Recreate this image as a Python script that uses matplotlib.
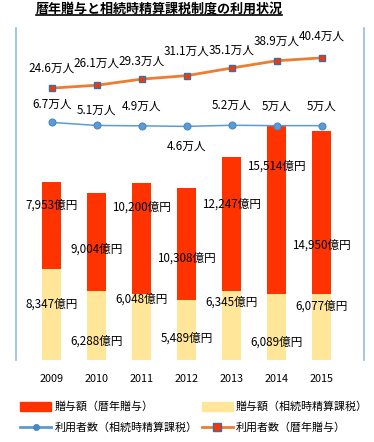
import matplotlib
matplotlib.use("Agg")
import matplotlib.pyplot as plt
from matplotlib.lines import Line2D
from matplotlib.patches import Patch
import numpy as np

plt.rcParams['font.family'] = ['Noto Sans CJK JP', 'DejaVu Sans']

# data (億円 / 万人)
years = ["2009", "2010", "2011", "2012", "2013", "2014", "2015"]
gift_annual = [7953, 9004, 10200, 10308, 12247, 15514, 14950]
gift_settle = [8347, 6288, 6048, 5489, 6345, 6089, 6077]
users_annual = [24.6, 26.1, 29.3, 31.1, 35.1, 38.9, 40.4]
users_settle = [6.7, 5.1, 4.9, 4.6, 5.2, 5, 5]

title = "暦年贈与と相続時精算課税制度の利用状況"
lab_annual = "贈与額（暦年贈与）"
lab_settle = "贈与額（相続時精算課税）"
lab_users_settle = "利用者数（相続時精算課税）"
lab_users_annual = "利用者数（暦年贈与）"

RED = "#FF3300"
YELLOW = "#FFE699"
ORANGE = "#ED7D31"
BLUE = "#5B9BD5"
FRAME = "#9DC3E6"

# label nudges in pixels (positive = down)
settle_dy = [-10, 15, -28, 8, -23, 15, -21]
annual_dy = [-21, 7, -31, 14, -20, -43, 33]
users_settle_dy = [-18, -15, -20, 20, -20, -19, -19]
users_annual_dy = [-20, -22, -18, -24, -18, -20, -22]

W, H = 374, 442
fig = plt.figure(figsize=(W / 100, H / 100), dpi=100)
ax = fig.add_axes([16 / W, 1 - 360 / H, 348 / W, 332 / H])
ax2 = ax.twinx()

x = np.arange(len(years))
ax.bar(x, gift_settle, width=0.42, color=YELLOW, zorder=2)
ax.bar(x, gift_annual, width=0.42, bottom=gift_settle, color=RED, zorder=2)

ax.set_xlim(-0.793, 6.94)
ax.set_ylim(0, 30460)
ax2.set_ylim(-117.4, 56.0)

ax2.plot(x, users_settle, color=BLUE, lw=1.1, marker='o', ms=5,
         mfc=BLUE, mec="#4A86C5", mew=0.8, zorder=3)
ax2.plot(x, users_annual, color=ORANGE, lw=2, marker='s', ms=5,
         mfc=RED, mec="#3A6EA5", mew=1, zorder=4)

px = 0.72  # pixel -> points
fs = 8.4
for i in range(len(years)):
    s, a = gift_settle[i], gift_annual[i]
    ax.annotate(f"{s:,}億円", (x[i], s / 2), xytext=(0, -settle_dy[i] * px),
                textcoords='offset points', ha='center', va='center', fontsize=fs)
    ax.annotate(f"{a:,}億円", (x[i], s + a / 2), xytext=(0, -annual_dy[i] * px),
                textcoords='offset points', ha='center', va='center', fontsize=fs)
    ax2.annotate(f"{users_settle[i]:g}万人", (x[i], users_settle[i]),
                 xytext=(0, -users_settle_dy[i] * px), textcoords='offset points',
                 ha='center', va='center', fontsize=fs)
    ax2.annotate(f"{users_annual[i]:g}万人", (x[i], users_annual[i]),
                 xytext=(0, -users_annual_dy[i] * px), textcoords='offset points',
                 ha='center', va='center', fontsize=fs)

for a_ in (ax, ax2):
    a_.spines['top'].set_visible(False)
    a_.spines['bottom'].set_visible(False)
    a_.tick_params(left=False, right=False, labelleft=False, labelright=False)
ax.spines['left'].set_color(FRAME)
ax.spines['right'].set_color(FRAME)
ax.spines['left'].set_linewidth(1.3)
ax.spines['right'].set_linewidth(1.3)
ax2.spines['left'].set_visible(False)
ax2.spines['right'].set_visible(False)

ax.set_xticks(x, labels=years)
ax.tick_params(axis='x', length=0, pad=10, labelsize=7.8)

t = fig.text(159 / W, 1 - 9 / H, title, ha='center', va='center',
             fontsize=9.4, fontweight='bold')

handles = [Patch(color=RED), Line2D([], [], color=BLUE, lw=2, marker='o', ms=4,
                                    mfc="#4A86C5", mec="#4A86C5"),
           Patch(color=YELLOW), Line2D([], [], color=ORANGE, lw=2, marker='s', ms=6,
                                       mfc=RED, mec="#3A6EA5")]
labels = [lab_annual, lab_users_settle, lab_settle, lab_users_annual]
fig.legend(handles, labels, ncol=2, loc='upper left',
           bbox_to_anchor=(16 / W, 1 - 397 / H), frameon=False, fontsize=7.9,
           handlelength=2.8, handleheight=0.9, handletextpad=0.3,
           columnspacing=0.4, labelspacing=0.95, borderaxespad=0)

fig.canvas.draw()
bb = t.get_window_extent().transformed(fig.transFigure.inverted())
fig.add_artist(Line2D([bb.x0, bb.x1], [1 - 15 / H] * 2, color='black', lw=1.2,
                      transform=fig.transFigure))

fig.savefig("out.png", dpi=100)
